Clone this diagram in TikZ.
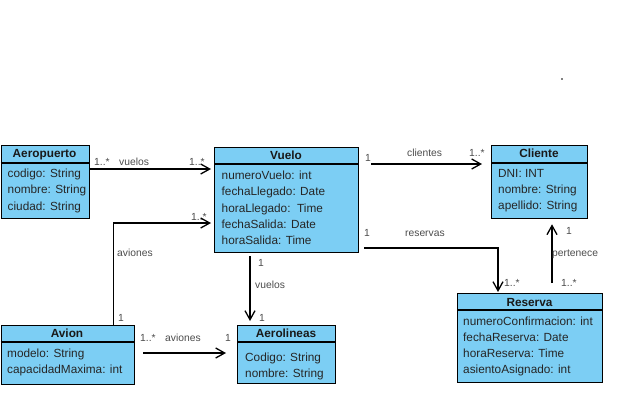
\documentclass[tikz,border=0pt]{standalone}
\usepackage{fontspec}
\setmainfont{Liberation Sans}
\usetikzlibrary{arrows.meta,calc}
\definecolor{azul}{RGB}{124,206,244}
\tikzset{
  clase/.style={draw, line width=1.3pt, fill=azul, anchor=north west, inner sep=0pt},
  titulo/.style={font=\fontsize{11.8}{14}\selectfont\bfseries, text=black!90, anchor=base, inner sep=0pt},
  attrs/.style={font=\fontsize{11.8}{16.2}\selectfont, text=black!85, align=left, anchor=north west, inner sep=0pt},
  etiqueta/.style={font=\fontsize{10.3}{12}\selectfont, text=black!70, anchor=base west, inner sep=0pt},
  flecha/.style={line width=1.3pt, -{Straight Barb[length=9pt,width=10pt,line width=1.3pt]}},
}
\begin{document}
\begin{tikzpicture}[x=1pt,y=-1pt]
\useasboundingbox (0,0) rectangle (636,402);
% clases
\node[clase, minimum width=88, minimum height=73] (aeropuerto) at (0.7,145) {};
\node[clase, minimum width=144, minimum height=105] (vuelo) at (214,147) {};
\node[clase, minimum width=96, minimum height=73] (cliente) at (491,145) {};
\node[clase, minimum width=133, minimum height=59] (avion) at (0.7,325) {};
\node[clase, minimum width=98, minimum height=58] (aerolineas) at (237,325) {};
\node[clase, minimum width=145, minimum height=89] (reserva) at (457,293) {};
\foreach \c/\h in {aeropuerto/18,vuelo/17,cliente/18,avion/17,aerolineas/17,reserva/17}
  \draw[line width=1.3pt] ([yshift=-\h pt]\c.north west) -- ([yshift=-\h pt]\c.north east);
% titulos
\node[titulo] (aeropuertoT) at (44.5,157.5) {Aeropuerto};
\node[titulo] (vueloT) at (286,159) {Vuelo};
\node[titulo] (clienteT) at (539,157.5) {Cliente};
\node[titulo] (avionT) at (67,337.5) {Avion};
\node[titulo] (aerolineasT) at (286,337.5) {Aerolineas};
\node[titulo] (reservaT) at (529.5,306) {Reserva};
% atributos
\node[attrs] (aeropuertoA) at (7.5,169) {codigo: String\\nombre: String\\ciudad: String};
\node[attrs] (vueloA) at (221.5,171) {numeroVuelo: int\\fechaLlegado: Date\\horaLlegado:\ \ Time\\fechaSalida: Date\\horaSalida: Time};
\node[attrs] (clienteA) at (498,169) {DNI: INT\\nombre: String\\apellido: String};
\node[attrs] (avionA) at (7,349) {modelo: String\\capacidadMaxima: int};
\node[attrs] (aerolineasA) at (245,352.5) {Codigo: String\\nombre: String};
\node[attrs] (reservaA) at (463,316.5) {numeroConfirmacion: int\\fechaReserva: Date\\horaReserva: Time\\asientoAsignado: int};
% relaciones
\draw[flecha, shorten >=3pt] (aeropuerto.east |- 0,169) -- (vuelo.west |- 0,169);
\draw[flecha, shorten >=3pt] (avion.north -| 113.3,0) |- (vuelo.west |- 0,223);
\draw[flecha] ($(vuelo.north east)+(12,17)$) -- ($(cliente.north west)+(-9,19)$);
\draw[flecha] ($(vuelo.south east)+(5,-5.3)$) -| ($(reserva.north west)+(41,-1)$);
\draw[flecha] ($(reserva.north west)+(95,-10)$) -- ($(cliente.south west)+(61,5)$);
\draw[flecha] ($(vuelo.south west)+(36,3)$) -- ($(aerolineas.north west)+(13,-4)$);
\draw[flecha] ($(avion.north east)+(8,28)$) -- ($(aerolineas.north west)+(-11,28)$);
% etiquetas
\node[etiqueta] (e1) at (94,165) {1..*};
\node[etiqueta] (e2) at (119,165) {vuelos};
\node[etiqueta] (e3) at (189,165) {1..*};
\node[etiqueta] (e4) at (191,220) {1..*};
\node[etiqueta] (e5) at (117,256.7) {aviones};
\node[etiqueta] (e6) at (118,321) {1};
\node[etiqueta] (e7) at (365,161) {1};
\node[etiqueta] (e8) at (407,156.7) {clientes};
\node[etiqueta] (e9) at (469,156.7) {1..*};
\node[etiqueta] (e10) at (364,236.7) {1};
\node[etiqueta] (e11) at (405,236.7) {reservas};
\node[etiqueta] (e12) at (504,286.7) {1..*};
\node[etiqueta] (e13) at (566,234) {1};
\node[etiqueta] (e14) at (552,256.7) {pertenece};
\node[etiqueta] (e15) at (561,286.7) {1..*};
\node[etiqueta] (e16) at (258,266.7) {1};
\node[etiqueta] (e17) at (255,288.3) {vuelos};
\node[etiqueta] (e18) at (259,321) {1};
\node[etiqueta] (e19) at (140,341.7) {1..*};
\node[etiqueta] (e20) at (165,341.7) {aviones};
\node[etiqueta] (e21) at (225,341.7) {1};
\fill (562,79) circle (0.8);
\end{tikzpicture}
\end{document}
